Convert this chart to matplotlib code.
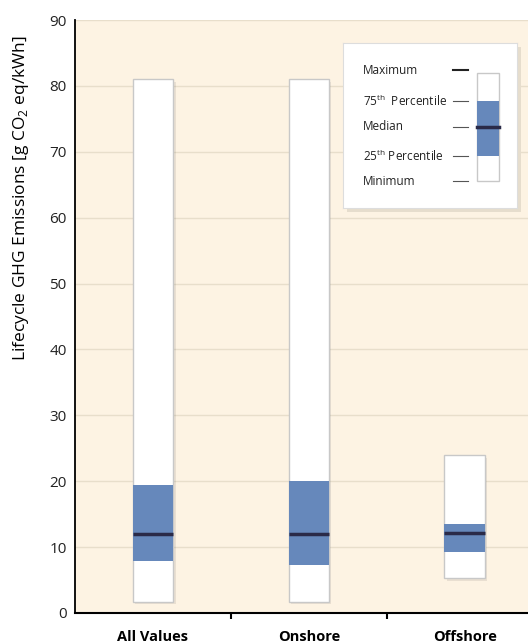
import matplotlib
matplotlib.use("Agg")
import matplotlib.pyplot as plt
from matplotlib.patches import Rectangle

# Dữ liệu (g CO2 eq/kWh)
categories = ["All Values", "Onshore", "Offshore"]
minimum = [1.7, 1.7, 5.3]
p25 = [7.9, 7.3, 9.3]
median = [12.0, 12.0, 12.2]
p75 = [19.4, 20.0, 13.5]
maximum = [81.0, 81.0, 24.0]

legend_labels = ["Maximum", "75$^{\\rm th}$  Percentile", "Median", "25$^{\\rm th}$ Percentile", "Minimum"]

BG = "#FDF3E3"
BLUE = "#6688BB"
DARK = "#2A2A48"
GRID = "#E8DECB"

plt.rcParams["font.family"] = ["Open Sans", "DejaVu Sans"]
plt.rcParams["mathtext.fontset"] = "custom"
plt.rcParams["mathtext.rm"] = "Open Sans"

fig = plt.figure(figsize=(5.28, 6.44), dpi=100)
ax = fig.add_axes([75 / 528, 31 / 644, 1 - 75 / 528 + 0.01, 593 / 644])
ax.set_facecolor(BG)

x = list(range(len(categories)))
w = 0.26

# bóng đổ nhẹ
for xi, lo, hi in zip(x, minimum, maximum):
    ax.add_patch(Rectangle((xi - w / 2 + 0.015, lo - 0.4), w, hi - lo,
                           facecolor="#000000", alpha=0.08, edgecolor="none", zorder=2))

ax.bar(x, [h - l for h, l in zip(maximum, minimum)], bottom=minimum, width=w,
       color="white", edgecolor="#C8C8C8", linewidth=1, zorder=3)
ax.bar(x, [h - l for h, l in zip(p75, p25)], bottom=p25, width=w,
       color=BLUE, edgecolor="none", zorder=4)
for xi, m in zip(x, median):
    ax.hlines(m, xi - w / 2, xi + w / 2, color=DARK, linewidth=2.5, zorder=5)

ax.set_ylim(0, 90)
ax.set_xlim(-0.5, 2.44)
ax.set_yticks(range(0, 91, 10))
ax.yaxis.grid(True, color=GRID, linewidth=1)
ax.set_axisbelow(True)
ax.tick_params(axis="y", length=0, labelsize=11, pad=6, colors="#222222")

ax.set_xticks([0.5, 1.5])
ax.set_xticklabels([])
ax.set_xticks(x, minor=True)
ax.set_xticklabels(categories, minor=True, fontweight="bold", fontsize=10.5)
ax.tick_params(axis="x", which="major", length=4, width=1.5, direction="out")
ax.tick_params(axis="x", which="minor", length=0, pad=12)

for s in ["top", "right"]:
    ax.spines[s].set_visible(False)
ax.spines["left"].set_linewidth(1.3)
ax.spines["bottom"].set_linewidth(1.5)

ax.set_ylabel("Lifecycle GHG Emissions [g CO$_2$ eq/kWh]", fontsize=12.5)
ax.yaxis.set_label_coords(-0.095, 0.70)

# bóng của hộp chú giải
shadow = fig.add_axes([347 / 528, (644 - 212) / 644, 174 / 528, 165 / 644])
shadow.axis("off")
shadow.add_patch(Rectangle((0, 0), 1, 1, transform=shadow.transAxes,
                           facecolor="#E6DDCD", edgecolor="none"))
shadow.set_zorder(4)

# Chú giải dạng hộp
lg = fig.add_axes([343 / 528, (644 - 208) / 644, 174 / 528, 165 / 644])
lg.set_zorder(5)
lg.set_xlim(0, 174)
lg.set_ylim(165, 0)
lg.set_facecolor("white")
for s in lg.spines.values():
    s.set_edgecolor("#DDDDDD")
lg.set_xticks([])
lg.set_yticks([])

ly = [27, 58, 84, 113, 138]
for t, yy in zip(legend_labels, ly):
    lg.text(20, yy, t, fontsize=8.5, va="center", ha="left", color="#222222")
for i, yy in enumerate(ly):
    lg.plot([110, 125], [yy, yy], color="#222222" if i == 0 else "#555555",
            linewidth=1.5 if i == 0 else 0.8)
lg.add_patch(Rectangle((134, 30), 22, 108, facecolor="white", edgecolor="#C8C8C8", linewidth=1))
lg.add_patch(Rectangle((134, 58), 22, 55, facecolor=BLUE, edgecolor="none"))
lg.plot([134, 156], [84, 84], color=DARK, linewidth=2.5)

fig.savefig("out.png", dpi=100, facecolor="white")
